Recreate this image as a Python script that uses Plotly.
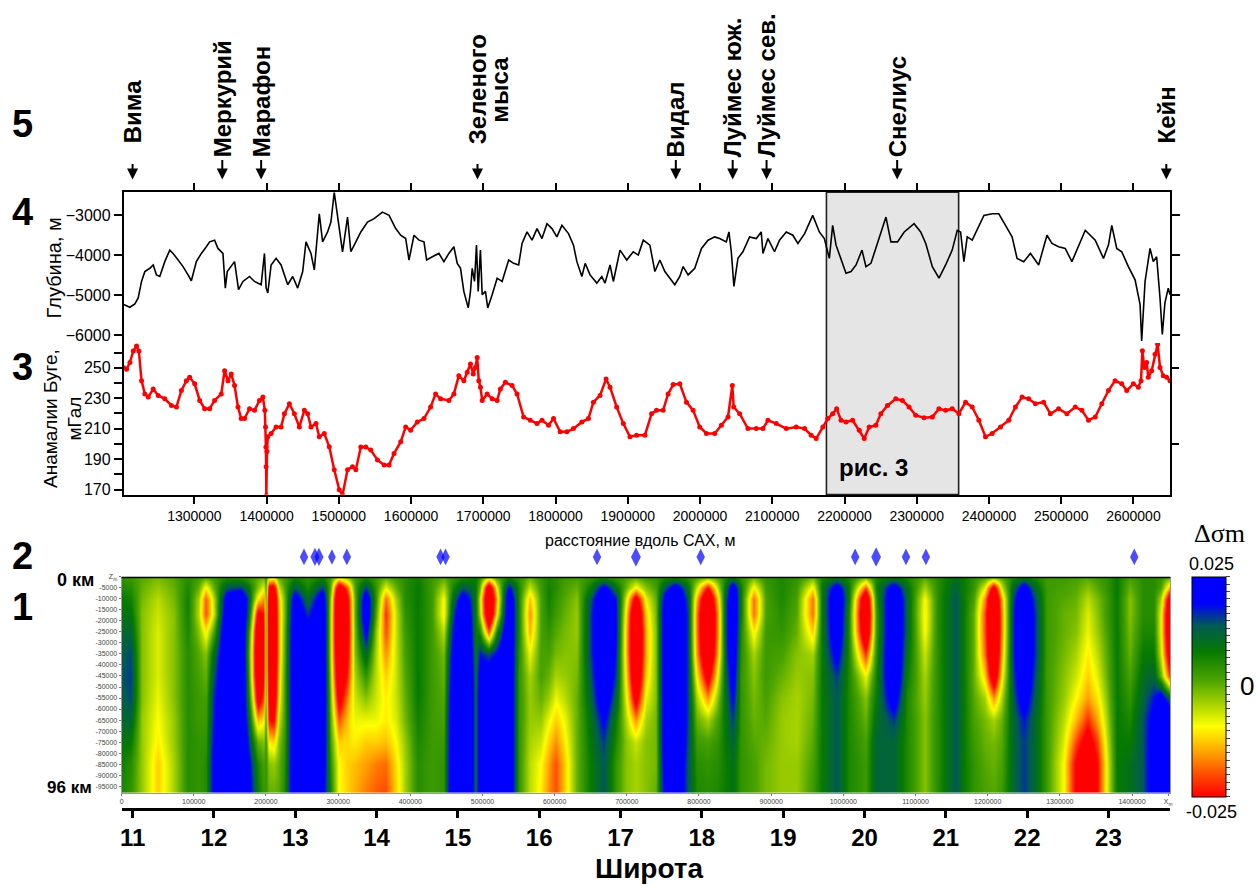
import plotly.graph_objects as go

W, H = 1257, 886
def px(x): return x / W
def py(y): return 1 - y / H

# ---------------- Panel 4 : depth profile ----------------
DEPTH_X = [1202000, 1210700, 1217600, 1222200, 1226800, 1231400, 1238300, 1243000, 1247500, 1252100,
           1259000, 1265900, 1270500, 1277400, 1284300, 1291200, 1295800, 1302700, 1309600, 1316500,
           1321100, 1328000, 1332600, 1339500, 1342800, 1345500, 1351000, 1355600, 1361100, 1367200,
           1376300, 1383200, 1392400, 1397000, 1399300, 1401600, 1406200, 1413100, 1420000, 1429200,
           1436100, 1443000, 1449900, 1454500, 1461400, 1466000, 1472900, 1477500, 1484400, 1489000,
           1493600, 1498200, 1505100, 1512000, 1516600, 1523500, 1530400, 1539600, 1548800, 1560300,
           1569500, 1578700,
           1585600, 1592500, 1597100, 1604000, 1610900, 1617800, 1621500, 1629400, 1638500, 1645400,
           1652300, 1659200, 1663900, 1668400, 1673000, 1679100, 1682200, 1684600, 1687800, 1690500,
           1692900, 1696000, 1698400, 1702900, 1706100, 1712200, 1719100, 1726000, 1735100, 1742000,
           1748900, 1753600, 1760500, 1767400, 1774300, 1781200, 1788100, 1795000, 1801800, 1808800,
           1817900, 1824800, 1829500, 1836400, 1841000, 1847800, 1857100, 1864000, 1868500, 1875400,
           1880000, 1889200, 1898500, 1907600, 1914500, 1921400, 1930600, 1937500, 1944400, 1951300,
           1958200, 1965100, 1972000, 1976600, 1983500, 1992700, 2002000, 2011100, 2020300, 2027200,
           2036400, 2040000, 2043300, 2046900, 2052500, 2059300, 2068600, 2077900, 2084700, 2087100,
           2094000, 2103100, 2110000, 2119400, 2128500, 2135500, 2144800, 2156000, 2165200,
           2172100, 2179000, 2183600, 2188300, 2195200, 2202100, 2209100, 2216000, 2224200, 2229700,
           2236600, 2245800, 2257400, 2264300, 2273400, 2282700, 2296300, 2305500, 2312500, 2321600,
           2330800, 2340000, 2349100, 2356100, 2360700, 2365300, 2369900, 2376800, 2383700, 2393000,
           2404400, 2413600, 2422900, 2432000, 2438900, 2448100, 2457400, 2468800, 2480300, 2487200,
           2496400, 2505600, 2514800, 2524000, 2533300, 2547100, 2558500, 2565400, 2570000, 2576900,
           2583800, 2593000, 2602300, 2609200, 2611400, 2616100, 2623000, 2627500, 2632100, 2636800,
           2640000, 2643600, 2648200, 2650600]
DEPTH_Y = [-5230, -5296, -5214, -5066, -4654, -4407, -4325, -4243, -4490, -4530,
           -4160, -3872, -3955, -4120, -4284, -4490, -4638, -4160, -3955, -3790,
           -3667, -3625, -3831, -3955, -4819, -4407, -4284, -4160, -4860, -4654,
           -4530, -4654, -4736, -3955, -4819, -4942, -4243, -4078, -4243, -4736,
           -4530, -4819, -4407, -3667, -3955, -4366, -2967, -3667, -3420, -3173,
           -2432, -3008, -3914, -3050, -3914, -3667, -3420, -3173, -3090, -2926,
           -3008, -3337,
           -3502, -3584, -4120, -3502, -3625, -3667, -4120, -4037, -3955, -4160,
           -3955, -3790, -4202, -4325, -4901, -5313, -4901, -4325, -4654, -3749,
           -4901, -3872, -4983, -4901, -5313, -4983, -4572, -4654, -4120, -4202,
           -4243, -3708, -3420, -3625, -3337, -3584, -3214, -3337, -3543, -3255,
           -3461, -3749, -4160, -4531, -4202, -4490, -4695, -4531, -4695, -4243,
           -4654, -3872, -4120, -3914, -3996, -3625, -3749, -4407, -4120, -4407,
           -4572, -4736, -4531, -4284, -4490, -4325, -3831, -3625, -3543, -3584,
           -3667, -3420, -3914, -4778, -4078, -3914, -3543, -3584, -3420, -3955,
           -3584, -3914, -3625, -3420, -3502, -3708, -3461, -3008, -3420,
           -3584, -4078, -3255, -3749, -4078, -4449, -4407, -4243, -3872, -4284,
           -4202, -3708, -3050, -3667, -3667, -3420, -3214, -3420, -3708, -4284,
           -4572, -4243, -3872, -3379, -3420, -4160, -3543, -3625, -3379, -3008,
           -2967, -2967, -3255, -3543, -4078, -4160, -3955, -4243, -3502, -3708,
           -3790, -3831, -4160, -3749, -3379, -3625, -4078, -3749, -3255, -3831,
           -3914, -4284, -4613, -5230, -6136, -4654, -3831, -4160, -4037, -5066,
           -5971, -5189, -4819, -4983]

# ---------------- Panel 3 : Bouguer anomaly ----------------
BOUG_X = [1202000, 1206100, 1210700, 1215400, 1219900, 1223100, 1226800, 1231400, 1236100, 1243000,
          1249900, 1259000, 1268200, 1275100, 1282000, 1288900, 1293500, 1300400, 1307300, 1314200,
          1321100, 1328000, 1337200, 1341800, 1346500, 1351000, 1355600, 1360300, 1364800, 1369400,
          1376300, 1383200, 1390100, 1394800, 1397500, 1398500, 1399000, 1399300, 1399600, 1400500,
          1401600, 1406200, 1413100, 1420000, 1424600, 1431500, 1438400, 1445300, 1452200, 1456800,
          1461400, 1468300, 1472900, 1479800, 1486700, 1493600, 1500500, 1505100, 1512000, 1518900,
          1523500, 1530400, 1537300, 1544200, 1553500, 1562600, 1569500, 1576400, 1585600, 1592500,
          1599400, 1608600, 1617800, 1627000, 1633900, 1640800, 1652300, 1659200, 1666100, 1673000,
          1677700, 1682200, 1686000, 1689100, 1691500, 1693700, 1696000, 1698400, 1705300, 1712200,
          1719100, 1723600, 1730500, 1739800, 1746700, 1755800, 1765000, 1774300, 1781200, 1790300,
          1797200, 1806400, 1815700, 1824800, 1836400, 1845500, 1852400, 1861600, 1869900, 1875400,
          1884600, 1893800, 1903000, 1912200, 1923700, 1932900, 1939800, 1948900, 1955800, 1962800,
          1972000, 1981200, 1990400, 1999600, 2008800, 2020300, 2029500, 2038700, 2044700, 2046600,
          2054800, 2066300, 2077900, 2087100, 2094000, 2105600, 2119400, 2133200, 2144700, 2153900,
          2160800, 2170000, 2176900, 2183600, 2189100, 2195200, 2202100, 2211200, 2220400, 2227300,
          2234200, 2243400, 2250300, 2259500, 2271000, 2280200, 2289400, 2298600, 2310100, 2321600,
          2330800, 2340000, 2349100, 2358400, 2367600, 2376800, 2386000, 2395200, 2404400, 2416000,
          2427400, 2436700, 2445800, 2455000, 2464300, 2475700, 2485000, 2496400, 2507900, 2519500,
          2528600, 2537800, 2547100, 2556200, 2565400, 2574600, 2583800, 2590700, 2599900, 2606800,
          2610500, 2612400, 2615100, 2618300, 2620600, 2625200, 2629900, 2633500, 2636800, 2641300,
          2645900, 2650600]
BOUG_Y = [250, 249, 253.5, 261, 264.3, 261, 241.5, 232.8, 230.7, 236,
          231.8, 229.6, 225.2, 224.2, 235, 241.5, 243.7, 239.4, 228.5, 223.1,
          223.1, 228.5, 232.8, 248, 241.5, 245.9, 238.3, 224.2, 216.6, 216.6,
          223.1, 222, 228.5, 230.7, 222, 211, 198, 185, 166, 195,
          204.6, 206.8, 211.1, 211.1, 219.8, 226.3, 219.8, 211.1, 222, 219.8,
          211.1, 213.3, 204.6, 206.8, 198.1, 183, 169.9, 166.6, 183, 185,
          183, 198, 198, 195.9, 189.4, 186.1, 186.1, 193.7, 201.3, 211.1,
          209, 214.4, 216.6, 224.2, 232.8, 229.6, 228.5, 232.8, 244.8, 241.5,
          247, 252.4, 245.9, 250.2, 256.7, 241.5, 237.2, 228.5, 232.8, 229.6,
          228.5, 236.1, 240.4, 238.3, 232.8, 217.6, 215.5, 213.3, 215.5, 212.2,
          216.6, 207.9, 207.9, 210, 214.4, 216.6, 227.4, 231.8, 242.6, 237.2,
          224.2, 213.3, 204.6, 205.7, 205.7, 219.8, 222, 222, 232.8, 238.9,
          239.4, 227.4, 222, 211.1, 206.8, 206.8, 212.2, 217.6, 238.3, 224.2,
          219.8, 210, 210, 210, 215.5, 213.3, 210, 211.1, 210, 205.7,
          203.5, 211.1, 216.6, 219.8, 223.1, 215.5, 214.4, 215.5, 209, 203.5,
          211.1, 212.2, 219.8, 225.2, 229.6, 228.5, 224.2, 218.7, 217.2, 217.6,
          223.1, 222, 223.1, 219.8, 227.4, 224.2, 215.5, 204.6, 206.8, 211.1,
          215.5, 224.2, 230.7, 229.6, 226.3, 227.4, 219.8, 223.1, 219.8, 224.2,
          222, 215.5, 217.6, 226.3, 235, 241.5, 239.4, 235, 239.4, 237.2,
          241.5, 261.1, 250.2, 253.5, 243.7, 248, 258.9, 265.4, 250.2, 244.8,
          243.7, 241.5]

# ---------------- Top labels (fracture zones) ----------------
LOC_X = [1214400, 1338600, 1392400, 1691900, 1966500, 2045200, 2092100, 2272900, 2645500]
LOC_NAMES = ["Вима", "Меркурий", "Марафон", "Зеленого", "Видал",
             "Луймес юж.", "Луймес сев.", "Снелиус", "Кейн"]
LOC_DETACHED = [True, False, False, True, False, False, False, False, True]
LOC_SECOND_LINE = "мыса"

FIG3_X0, FIG3_X1 = 2175000, 2358000

# ---------------- Panel 2 : diamonds ----------------
DIAM_X = [252700, 267900, 273400, 291400, 312100, 441900, 448800, 658700, 712600, 802400,
          1016400, 1045400, 1086800, 1114400, 1403100]
DIAM_Y = [0] * len(DIAM_X)
DIAM_SIZE = [12, 13, 13, 11, 12, 12, 12, 12, 14, 12, 12, 14, 12, 12, 12]

# ---------------- Panel 1 : density section ----------------
HM_X = [0, 12000, 28000, 50000, 72000, 92000, 106000, 117000, 128000, 145000,
        165000, 175000, 181000, 189000, 197000, 200000, 203000, 210000, 218000, 226000,
        240000, 258000, 278000, 290000, 301000, 313000, 323000, 338000, 352000, 366000,
        380000, 392000, 410000, 430000, 446000, 458000, 472000, 484000, 490000, 496000,
        508000, 520000, 536000, 550000, 566000, 580000, 592000, 602000, 614000, 630000,
        650000, 668000, 685000, 698000, 712000, 726000, 740000, 752000, 768000, 784000,
        797000, 812000, 826000, 838000, 847000, 857000, 876000, 892000, 915000, 935000,
        957000, 970000, 990000, 1008000, 1031000, 1045000, 1070000, 1088000, 1112000, 1130000,
        1155000, 1166000, 1180000, 1196000, 1208000, 1220000, 1236000, 1250000, 1264000, 1282000,
        1305000, 1322000, 1338000, 1352000, 1365000, 1378000, 1396000, 1414000, 1430000, 1440000,
        1453000]
HM_DEPTH = [0, -5000, -10000, -17000, -25000, -35000, -45000, -55000, -65000, -75000, -85000, -97500]
# one profile per column (values in units of 0.001), top to bottom
HM_COLS = [
    [4, 6, 8, 9, 11, 13, 14, 13, 11, 9, 7, 6],
    [3, 5, 7, 9, 12, 15, 16, 15, 12, 8, 5, 4],
    [1, 0, -1, -2, -2, -2, -2, -2, -3, -3, -3, -3],
    [-1, -3, -5, -6, -7, -7, -7, -8, -9, -10, -12, -12],
    [1, 0, -1, -2, -2, -2, -2, -2, -3, -3, -4, -4],
    [5, 6, 7, 7, 6, 5, 5, 5, 5, 5, 5, 5],
    [3, 0, -4, -5, -2, 1, 2, 3, 3, 4, 4, 4],
    [1, -10, -19, -20, -10, -2, 0, 2, 3, 4, 5, 5],
    [3, 0, -5, -6, 2, 10, 14, 17, 18, 20, 22, 22],
    [5, 14, 24, 28, 30, 30, 30, 30, 30, 30, 30, 30],
    [4, 16, 28, 32, 34, 34, 34, 32, 30, 30, 30, 30],
    [3, 10, 16, 14, 8, 6, 8, 10, 14, 18, 22, 22],
    [2, 4, 2, -5, -12, -15, -14, -8, 0, 8, 14, 16],
    [1, -2, -10, -28, -40, -42, -40, -32, -14, 0, 6, 8],
    [0, -8, -16, -24, -28, -28, -26, -20, -10, -2, 2, 3],
    [4, 3, 2, 1, 1, 1, 1, 2, 3, 4, 4, 4],
    [-5, -28, -36, -38, -38, -38, -36, -32, -24, -10, -2, 0],
    [-6, -30, -40, -40, -40, -40, -38, -34, -26, -12, -3, 0],
    [1, -6, -12, -14, -14, -14, -12, -10, -6, -2, 0, 1],
    [3, 2, 0, 0, 1, 2, 3, 3, 3, 4, 5, 6],
    [6, 14, 24, 28, 30, 30, 30, 30, 30, 30, 30, 30],
    [4, 6, 10, 16, 24, 28, 30, 30, 30, 30, 30, 30],
    [6, 16, 26, 30, 30, 30, 30, 30, 28, 26, 24, 22],
    [2, 0, -4, -6, -6, -6, -4, -2, 0, 2, 4, 6],
    [-5, -35, -45, -45, -45, -42, -38, -30, -20, -12, -9, -9],
    [-1, -18, -26, -28, -28, -26, -22, -16, -12, -11, -12, -12],
    [3, 2, 0, 0, -1, -2, -4, -6, -8, -10, -13, -14],
    [5, 16, 26, 28, 22, 12, 4, -2, -8, -12, -15, -17],
    [3, 4, 4, 2, -2, -4, -5, -6, -8, -12, -17, -19],
    [1, -8, -18, -22, -20, -16, -12, -10, -10, -13, -18, -20],
    [3, 0, -4, -6, -6, -6, -6, -6, -7, -9, -11, -12],
    [5, 5, 5, 4, 3, 2, 1, 0, -1, -3, -4, -4],
    [7, 8, 8, 8, 8, 8, 8, 8, 7, 6, 5, 5],
    [3, 3, 3, 3, 3, 3, 3, 3, 3, 3, 3, 3],
    [1, -4, -9, -10, -5, -1, 0, 1, 2, 3, 4, 4],
    [4, 6, 10, 14, 18, 22, 25, 28, 30, 30, 30, 30],
    [5, 14, 24, 30, 32, 32, 32, 32, 32, 32, 32, 32],
    [6, 12, 16, 18, 20, 22, 24, 26, 26, 26, 26, 26],
    [8, 8, 8, 8, 8, 9, 10, 10, 10, 10, 10, 10],
    [4, 0, -6, -4, 6, 18, 24, 28, 30, 30, 30, 30],
    [-4, -35, -42, -40, -20, 14, 26, 30, 30, 30, 30, 30],
    [2, -8, -14, -10, 6, 20, 28, 30, 30, 30, 30, 30],
    [6, 20, 28, 30, 30, 30, 30, 30, 30, 30, 30, 30],
    [4, 6, 6, 6, 6, 5, 4, 4, 4, 4, 4, 4],
    [0, -6, -13, -16, -14, -8, -4, -3, -3, -4, -5, -5],
    [4, 3, 2, 2, 2, 2, 2, 0, -3, -6, -9, -10],
    [6, 7, 7, 6, 4, 2, 0, -3, -8, -12, -15, -16],
    [5, 5, 4, 3, 1, -1, -4, -8, -12, -16, -20, -20],
    [3, 2, 1, 0, -1, -2, -3, -5, -8, -10, -12, -12],
    [2, 0, -2, -3, -3, -2, -1, 0, 0, 0, 0, 0],
    [4, 8, 14, 16, 16, 16, 14, 12, 10, 9, 8, 8],
    [5, 22, 30, 32, 32, 32, 30, 26, 20, 16, 14, 14],
    [3, 10, 18, 20, 20, 18, 16, 12, 8, 6, 4, 4],
    [2, 0, -6, -10, -12, -12, -10, -7, -4, -2, -2, -2],
    [1, -10, -30, -40, -42, -42, -38, -30, -16, -6, -4, -4],
    [3, -2, -8, -12, -14, -14, -12, -8, -4, -2, -2, -2],
    [4, 2, 0, -1, -2, -2, -2, -2, -1, -1, -1, 0],
    [5, 14, 22, 26, 26, 26, 26, 26, 26, 26, 24, 22],
    [6, 24, 30, 32, 32, 32, 32, 32, 32, 32, 30, 28],
    [4, 10, 14, 16, 16, 16, 16, 16, 16, 15, 14, 14],
    [2, -6, -14, -18, -18, -16, -10, -4, 0, 3, 5, 6],
    [0, -25, -40, -44, -44, -40, -30, -16, -4, 2, 4, 5],
    [2, -5, -12, -16, -16, -14, -8, -2, 2, 4, 5, 6],
    [6, 12, 16, 18, 18, 16, 14, 12, 10, 9, 8, 8],
    [8, 26, 30, 30, 30, 28, 24, 20, 16, 12, 10, 10],
    [4, 8, 8, 8, 6, 5, 4, 4, 4, 4, 4, 4],
    [0, -10, -18, -18, -10, -4, -2, -1, 0, 1, 2, 2],
    [4, 3, 2, 2, 3, 3, 3, 2, 1, 0, -1, -1],
    [6, 6, 6, 5, 4, 2, 0, -2, -3, -3, -3, -3],
    [4, 3, 2, 1, 0, -2, -3, -4, -4, -4, -3, -3],
    [0, -10, -18, -18, -12, -4, -2, -1, 0, 1, 2, 3],
    [6, 8, 8, 8, 8, 8, 8, 8, 8, 8, 8, 8],
    [8, 24, 30, 30, 28, 22, 16, 14, 14, 14, 14, 14],
    [6, 8, 8, 6, 6, 6, 6, 6, 6, 6, 6, 6],
    [0, -20, -38, -42, -38, -22, -8, -2, 0, 2, 3, 3],
    [6, 6, 4, 2, 2, 4, 6, 8, 10, 12, 12, 12],
    [8, 24, 30, 32, 32, 32, 30, 24, 16, 12, 12, 12],
    [6, 10, 12, 12, 12, 10, 8, 6, 6, 6, 6, 6],
    [1, -4, -9, -10, -9, -6, -4, -3, -2, -2, -2, -2],
    [5, 5, 5, 5, 5, 5, 5, 5, 5, 5, 5, 5],
    [10, 12, 14, 14, 14, 14, 14, 14, 14, 14, 14, 14],
    [8, 8, 8, 8, 8, 8, 8, 8, 8, 8, 8, 8],
    [4, 4, 2, 0, 0, 0, 0, 1, 2, 3, 4, 4],
    [2, -8, -16, -20, -20, -18, -12, -4, -1, 0, 1, 2],
    [0, -30, -42, -45, -45, -42, -34, -16, -4, -1, 0, 1],
    [2, -6, -14, -16, -16, -14, -10, -4, 0, 1, 2, 3],
    [6, 12, 16, 18, 18, 18, 16, 14, 12, 12, 12, 12],
    [8, 24, 30, 32, 32, 32, 30, 24, 18, 16, 16, 16],
    [6, 12, 16, 18, 18, 18, 16, 14, 12, 12, 12, 12],
    [3, 3, 3, 3, 3, 3, 3, 3, 3, 3, 3, 3],
    [3, 2, 1, 0, 0, -1, -2, -3, -5, -7, -9, -9],
    [2, 1, 0, -1, -2, -4, -6, -9, -13, -20, -26, -26],
    [1, -2, -5, -7, -8, -10, -12, -15, -22, -30, -36, -36],
    [3, 1, -1, -2, -3, -5, -7, -10, -14, -20, -24, -24],
    [4, 4, 3, 3, 2, 1, 0, -2, -4, -6, -8, -8],
    [8, 8, 8, 8, 8, 8, 8, 8, 8, 8, 8, 8],
    [2, 0, -2, -2, -1, 0, 2, 4, 6, 8, 10, 10],
    [5, 5, 5, 5, 6, 8, 10, 12, 14, 14, 14, 14],
    [5, 5, 5, 5, 6, 8, 12, 18, 22, 24, 24, 24],
    [4, 2, -4, -8, -8, -6, 0, 24, 32, 34, 34, 34],
    [0, -16, -36, -42, -42, -36, -24, 10, 30, 34, 34, 34],
]
HM_Z = [list(row) for row in zip(*HM_COLS)]

HM_XTICKS = [0, 100000, 200000, 300000, 400000, 500000, 600000, 700000, 800000, 900000,
             1000000, 1100000, 1200000, 1300000, 1400000]
HM_YTICKS = [0, -5000, -10000, -15000, -20000, -25000, -30000, -35000, -40000, -45000, -50000,
             -55000, -60000, -65000, -70000, -75000, -80000, -85000, -90000, -95000]

LAT_TICKS = [11, 12, 13, 14, 15, 16, 17, 18, 19, 20, 21, 22, 23]

COLORSCALE = [
    [0.00, "#ff0000"], [0.10, "#ff4a00"], [0.20, "#ffa000"], [0.32, "#ffff00"],
    [0.42, "#a8d400"], [0.53, "#4ca400"], [0.66, "#067a00"], [0.78, "#005a55"],
    [0.88, "#0000ff"], [1.00, "#0000ff"],
]

# ---------------- layout geometry ----------------
XD_TOP = [px(122), px(1172)]
XD_HM = [px(120), px(1172)]
X_RANGE = [1202000, 2651000]

fig = go.Figure()

fig.add_trace(go.Scatter(x=DEPTH_X, y=DEPTH_Y, mode="lines", xaxis="x", yaxis="y",
                         line=dict(color="black", width=1.6), hoverinfo="skip"))
fig.add_trace(go.Scatter(x=BOUG_X, y=BOUG_Y, mode="lines+markers", xaxis="x2", yaxis="y2",
                         line=dict(color="#ff0000", width=2.5),
                         marker=dict(color="#ff0000", size=5), hoverinfo="skip"))
fig.add_trace(go.Scatter(x=[], y=[], xaxis="x2", yaxis="y6", hoverinfo="skip"))

fig.add_trace(go.Heatmap(
    x=HM_X, y=HM_DEPTH, z=HM_Z, xaxis="x3", yaxis="y3",
    zmin=-25, zmax=25, zsmooth="best", colorscale=COLORSCALE, hoverinfo="skip",
    colorbar=dict(x=px(1194), xanchor="left", y=py(578), yanchor="top",
                  len=222 / H, lenmode="fraction", thickness=34, thicknessmode="pixels",
                  outlinewidth=1, outlinecolor="black", tickmode="linear", tick0=-25,
                  dtick=5 / 3, ticks="outside", ticklen=4, tickcolor="#444",
                  showticklabels=False, xpad=0, ypad=0),
))
fig.add_trace(go.Scatter(x=DIAM_X, y=DIAM_Y, mode="markers", xaxis="x3", yaxis="y4",
                         marker=dict(symbol="diamond-tall", size=DIAM_SIZE, color="#0000ff",
                                     line=dict(width=0)),
                         hoverinfo="skip"))
fig.add_trace(go.Scatter(x=[], y=[], xaxis="x5", yaxis="y5", hoverinfo="skip"))

axis_common = dict(showgrid=False, zeroline=False, linecolor="black", tickcolor="black")

fig.update_layout(
    width=W, height=H, margin=dict(l=0, r=0, t=0, b=0),
    paper_bgcolor="white", plot_bgcolor="rgba(0,0,0,0)", showlegend=False,
    font=dict(family="Liberation Sans, Arial, sans-serif", color="black"),
    xaxis=dict(domain=XD_TOP, anchor="y", range=X_RANGE, side="top", showline=True,
               linewidth=1.5, ticks="outside", ticklen=8, tickwidth=1.5,
               tickmode="linear", tick0=0, dtick=100000, showticklabels=False, **axis_common),
    yaxis=dict(domain=[py(342), py(190)], anchor="x", range=[-6185, -2432],
               tickvals=[-6000, -5000, -4000, -3000], ticks="outside", ticklen=8, tickwidth=1.5,
               showline=True, linewidth=1.5, mirror="ticks", tickfont=dict(size=16),
               **axis_common),
    xaxis2=dict(domain=XD_TOP, anchor="y2", range=X_RANGE, side="bottom", showline=True,
                linewidth=1.5, ticks="outside", ticklen=8, tickwidth=1.5,
                tickmode="linear", tick0=0, dtick=100000, tickformat="d",
                tickfont=dict(size=14), **axis_common),
    yaxis2=dict(domain=[py(495), py(342)], anchor="x2", range=[166.7, 266.3],
                tickvals=[170, 190, 210, 230, 250], ticks="outside", ticklen=8, tickwidth=1.5,
                minor=dict(tickmode="linear", tick0=170, dtick=10, ticks="outside",
                           ticklen=8, tickwidth=1.5, tickcolor="black"),
                showline=True, linewidth=1.5, mirror=True, tickfont=dict(size=16),
                **axis_common),
    yaxis6=dict(overlaying="y2", anchor="x2", side="right", range=[166.7, 266.3],
                tickvals=[200, 250], ticks="outside", ticklen=8, tickwidth=1.5,
                showticklabels=False, showline=False, **axis_common),
    xaxis3=dict(domain=XD_HM, anchor="y3", range=[0, 1453000],
                tickvals=HM_XTICKS + [1450000],
                ticktext=[str(v) for v in HM_XTICKS] + ["X<sub>m</sub>"],
                ticks="outside", ticklen=2, tickcolor="#777", tickfont=dict(size=7, color="#444"),
                showline=True, linecolor="#999", linewidth=1, showgrid=False, zeroline=False),
    yaxis3=dict(domain=[py(796), py(578)], anchor="x3", range=[-98000, 0],
                tickvals=HM_YTICKS,
                ticktext=["Z<sub>m</sub>"] + [str(v) for v in HM_YTICKS[1:]],
                ticks="outside", ticklen=2, tickcolor="#777", tickfont=dict(size=7, color="#444"),
                showline=True, linecolor="#999", linewidth=1, mirror=True,
                showgrid=False, zeroline=False),
    yaxis4=dict(domain=[py(576), py(540)], anchor="x3", range=[-1, 1], visible=False),
    xaxis5=dict(domain=XD_HM, anchor="y5", range=[10.865, 23.76], tickvals=LAT_TICKS,
                ticks="outside", ticklen=7, tickwidth=3, showline=True, linewidth=3,
                tickfont=dict(size=24, weight="bold"), **axis_common),
    yaxis5=dict(domain=[py(811), py(805)], anchor="x5", visible=False),
)

shapes = [
    dict(type="rect", xref="x2", yref="paper", x0=FIG3_X0, x1=FIG3_X1, y0=py(495), y1=py(190),
         fillcolor="#e5e5e5", line=dict(color="#222", width=1.6), layer="below"),
    dict(type="line", xref="x3 domain", yref="y3", x0=0, x1=1, y0=0, y1=0,
         line=dict(color="black", width=3)),
]
fig.update_layout(shapes=shapes)

ann = []
def A(text, x, y, size, bold=False, **kw):
    t = f"<b>{text}</b>" if bold else text
    d = dict(text=t, x=x, y=y, xref=kw.pop("xref", "paper"), yref=kw.pop("yref", "paper"),
             showarrow=False, font=dict(size=size, family=kw.pop("family", "Liberation Sans, Arial, sans-serif"),
                                        color="black"))
    d.update(kw)
    ann.append(d)

# panel numbers
for lab, yy in [("5", 121), ("4", 210), ("3", 366), ("2", 557), ("1", 608)]:
    A(lab, px(21), py(yy), 38, bold=True, xanchor="center", yanchor="middle")

# fracture zone labels with down arrows
for name, xv, detached in zip(LOC_NAMES, LOC_X, LOC_DETACHED):
    bottom = 143 if detached else 157
    A(name, xv, py(bottom), 24, bold=True, xref="x", xanchor="center", yanchor="bottom",
      textangle=-90)
    ann.append(dict(text="", x=xv, y=py(177), xref="x", yref="paper", showarrow=True,
                    ax=0, ay=-(177 - (160 if detached else 156)), arrowhead=2, arrowsize=1.1,
                    arrowwidth=2, arrowcolor="black", standoff=0, startstandoff=0))
A(LOC_SECOND_LINE, LOC_X[3], py(86), 24, bold=True, xref="x", xanchor="center", yanchor="middle",
  textangle=-90, xshift=22)

# axis titles
A("Глубина, м", px(52), py(266), 20, xanchor="center", yanchor="middle", textangle=-90)
A("Анамалии Буге,<br>мГал", px(61), py(418), 19, xanchor="center", yanchor="middle", textangle=-90)
A("расстояние вдоль САХ, м", px(640), py(541), 16, xanchor="center", yanchor="middle")
A("рис. 3", px(838), py(468), 24, bold=True, xanchor="left", yanchor="middle")

# section labels
A("0 км", px(74), py(581), 18, bold=True, xanchor="center", yanchor="middle")
A("96 км", px(68), py(791), 17, bold=True, xanchor="center", yanchor="middle")
A("Широта", px(650), py(872), 28, bold=True, xanchor="center", yanchor="middle")

# colorbar labels
A("Δσm", px(1221), py(534), 26, family="Liberation Serif, Times New Roman, serif",
  xanchor="center", yanchor="middle")
A("0.025", px(1213), py(565), 18, xanchor="center", yanchor="middle")
A("0", px(1249), py(688), 26, xanchor="center", yanchor="middle")
A("-0.025", px(1213), py(815), 18, xanchor="center", yanchor="middle")

fig.update_layout(annotations=ann)

fig.write_html("out.html")
